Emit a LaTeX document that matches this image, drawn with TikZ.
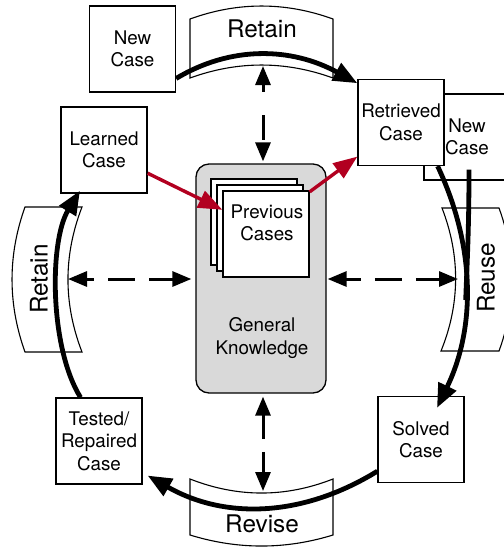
\documentclass[tikz,border=0pt]{standalone}
\usepackage{fontspec}
\setmainfont{TeX Gyre Heros}
\usetikzlibrary{arrows.meta,calc}
\definecolor{cbred}{RGB}{178,0,32}
\definecolor{gkgray}{RGB}{217,217,217}
\begin{document}
\begin{tikzpicture}[x=1pt,y=-1pt,
  casebox/.style={draw,line width=1.3pt,fill=white,minimum width=86pt,minimum height=86pt,inner sep=0pt,align=center,font=\fontsize{18.8}{22.5}\selectfont},
  sheet/.style={draw,line width=1.3pt,fill=white,minimum width=86pt,minimum height=86pt,inner sep=0pt},
  plaintxt/.style={inner sep=0pt,align=center,font=\fontsize{18.8}{22.5}\selectfont},
  banner/.style={draw,line width=1.1pt,fill=white},
  bigtxt/.style={inner sep=0pt,font=\fontsize{24.3}{28}\selectfont},
  thickarr/.style={line width=4.8pt,-{Triangle[length=24pt,width=19pt]}},
  thickline/.style={line width=4.8pt},
  redarr/.style={draw=cbred,line width=3.4pt,-{Triangle[length=24pt,width=18pt]},color=cbred},
  dasharr/.style={line width=3pt,{Triangle[length=19pt,width=15pt]}-{Triangle[length=19pt,width=15pt]}}
]
\useasboundingbox (0,0) rectangle (504,547);
\clip (0,0) rectangle (504,547);

% banners
\draw[banner] (190,19) .. controls (237.7,1.7) and (285.3,1.7) .. (333,19) -- (333,78)
  .. controls (285.3,60.7) and (237.7,60.7) .. (190,78) -- cycle;
\node[bigtxt] (lbltop) at (262,29) {Retain};
\draw[banner] (190,479) .. controls (237.7,497.7) and (285.3,497.7) .. (333,479) -- (333,535)
  .. controls (285.3,549.7) and (237.7,549.7) .. (190,535) -- cycle;
\node[bigtxt] (lblbot) at (262,524) {Revise};
\draw[banner] (25,207) -- (82,207) .. controls (63.3,255.3) and (63.3,303.7) .. (82,352) -- (25,352)
  .. controls (7.7,303.7) and (7.7,255.3) .. (25,207) -- cycle;
\node[bigtxt,rotate=90] (lblleft) at (39,279) {Retain};
\draw[banner] (442,208) -- (499,208) .. controls (516.3,255.3) and (516.3,303.7) .. (499,351) -- (441,351)
  .. controls (460.3,303.7) and (460.3,255.3) .. (442,208) -- cycle;
\node[bigtxt,rotate=90] (lblright) at (486,278) {Reuse};

% general knowledge
\node[draw,line width=1.3pt,fill=gkgray,rounded corners=13pt,minimum width=130pt,minimum height=229pt,inner sep=0pt] (gk) at (261,278.5) {};
\node[sheet] (sheetA) at (254,222) {};
\node[sheet] (sheetB) at (260,228) {};
\node[sheet] (front) at (266,234) {};
\node[plaintxt] (prevtxt) at (267,223) {Previous\\Cases};
\node[plaintxt] (gktxt) at (262,338) {General\\Knowledge};

% case boxes
\node[casebox] (newcase) at (132.5,49) {New\\Case};
\node[casebox] (newcaseB) at (467,137) {New\\Case};
\node[casebox] (retrieved) at (401,122.5) {Retrieved\\Case};
\node[casebox] (learned) at (104,150) {Learned\\Case};
\node[casebox] (tested) at (99,441) {Tested/\\Repaired\\Case};
\node[casebox] (solved) at (421,439.5) {Solved\\Case};

% main cycle arrows
\draw[thickarr] (newcase.-34.6) .. controls (230.7,45.7) and (291,47) .. (retrieved.138.7);
\draw[thickline] ($(newcaseB.south)+(2,-11)$) .. controls (469,230) and (467,265) .. (465.7,300);
\draw[thickarr] (retrieved.-50) .. controls (475.7,247) and (475.7,328) .. ($(solved.north)+(16,12)$);
\draw[thickarr] (solved.216) .. controls (301.7,517.7) and (224.3,519.3) .. ($(tested.-35.3)+(5,4)$);
\draw[thickarr] (tested.113.8) .. controls (49.3,347) and (49.3,241) .. ($(learned.south)+(-24,-3)$);

% red arrows
\draw[redarr] (learned.-28.1) -- (front.151.9);
\draw[redarr] (front.44) -- (retrieved.218.7);

% dashed arrows
\coordinate (dtop) at (263,66);
\coordinate (dbot) at (263,491);
\coordinate (dleft) at (68,279);
\coordinate (dright) at (458,279);
\draw[dasharr,dash pattern=on 25pt off 23pt,dash phase=17pt] (dtop) -- ($(dtop |- gk.north)+(0,-2)$);
\draw[dasharr,dash pattern=on 24pt off 13pt,dash phase=0pt] ($(dbot |- gk.south)+(0,3)$) -- (dbot);
\draw[dasharr,dash pattern=on 27pt off 14pt,dash phase=19pt] (dleft) -- ($(gk.west |- dleft)+(-4,0)$);
\draw[dasharr,dash pattern=on 27pt off 14pt,dash phase=12pt] ($(gk.east |- dright)+(1,0)$) -- (dright);
\end{tikzpicture}
\end{document}
